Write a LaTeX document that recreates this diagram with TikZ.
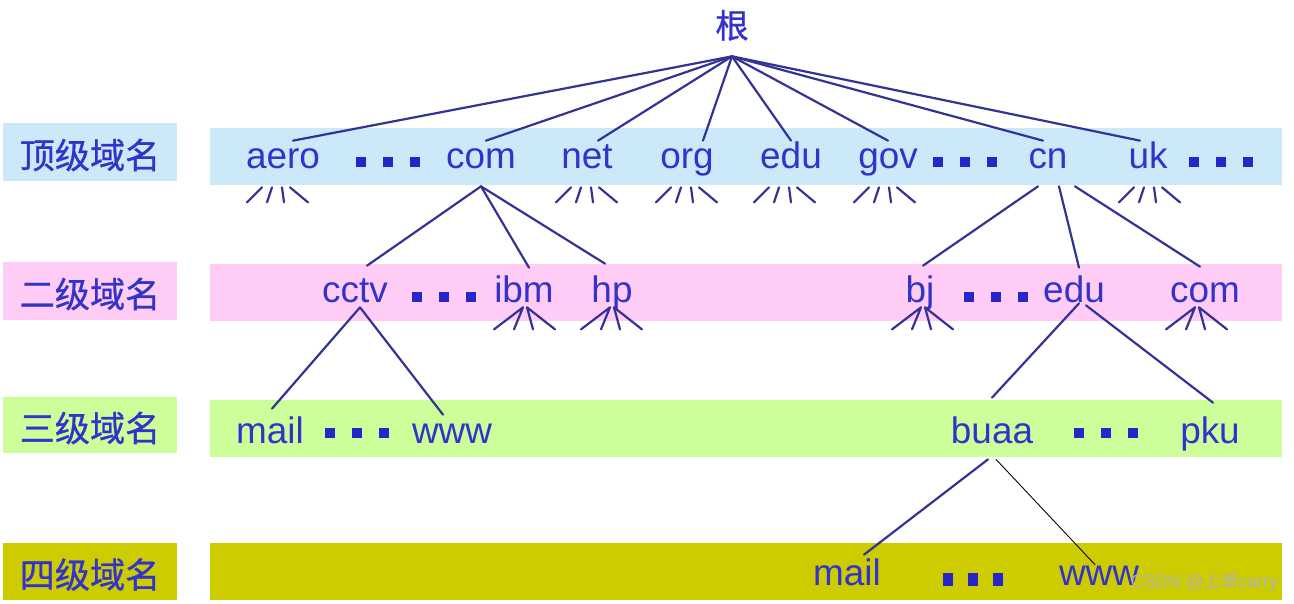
\documentclass[tikz,border=0pt]{standalone}
\usepackage{fontspec}
\setmainfont{Liberation Sans}
\newfontfamily\cjk{Noto Sans CJK SC}
\newfontfamily\cjkb{Noto Sans CJK SC}[FakeBold=0.8]
\definecolor{dnstext}{RGB}{51,51,204}
\definecolor{dnsline}{RGB}{51,51,150}
\definecolor{dnsdot}{RGB}{38,38,200}
\definecolor{bandA}{RGB}{204,233,250}
\definecolor{bandB}{RGB}{255,204,245}
\definecolor{bandC}{RGB}{204,255,153}
\definecolor{bandD}{RGB}{204,204,0}
\tikzset{
	link/.style={draw=dnsline,line width=1.25pt},
	dom/.style={text=dnstext,inner sep=0pt,anchor=base,font=\fontsize{21}{24}\selectfont},
	la/.style={dom,text height=0.54cm,text depth=0.36cm},
	lb/.style={dom,text height=0.72cm,text depth=0.1cm},
	lc/.style={dom,text height=0.64cm,text depth=0.32cm},
	ld/.style={dom,text height=0.52cm,text depth=0cm},
	lab/.style={text=dnstext,inner sep=0pt,font=\cjkb\fontsize{20}{24}\selectfont},
	rt/.style={text=dnstext,inner sep=0pt,anchor=base,text depth=0.36cm,font=\cjkb\fontsize{19}{22}\selectfont}
}
\begin{document}
\begin{tikzpicture}[x=0.02cm,y=-0.02cm,line join=round,line cap=round]
	\useasboundingbox (0,0) rectangle (1294,603);
	\foreach \i/\a/\b/\c/\d/\k/\t in {1/123/181/128/185/bandA/顶级域名,2/262/320/264/321/bandB/二级域名,3/397/453/400/457/bandC/三级域名,4/543/600/543/600/bandD/四级域名}{
		\fill[\k] (3,\a) rectangle (177,\b);
		\fill[\k] (210,\c) rectangle (1282,\d);
		\node[lab] (lev\i) at (90,{(\a+\b)/2+3}) {\t};
	}
	\node[rt] (r) at (732,38) {根};
	\foreach \n/\x in {aero/283,com/481,net/587,org/687,edu/791,gov/888,cn/1048,uk/1148} \node[la] (\n) at (\x,168) {\n};
	\foreach \n/\x/\t in {cctv/355/cctv,ibm/524/ibm,hp/612/hp,bj/920/bj,edu2/1074/edu,com2/1205/com} \node[lb] (\n) at (\x,302) {\t};
	\foreach \n/\x/\t in {mail3/270/mail,www3/452/www,buaa/992/buaa,pku/1210/pku} \node[lc] (\n) at (\x,443) {\t};
	\foreach \n/\x/\t in {mail4/847/mail,www4/1099/www} \node[ld] (\n) at (\x,585) {\t};
	\foreach \n/\d in {aero/10,com/5,net/11,org/16,edu/0,gov/0,cn/-5,uk/-8} \draw[link] (r.south) -- ([shift={(\d,0)}]\n.north);
	\foreach \n/\d/\e in {cctv/12/0,ibm/5/2,hp/-7/-2} \draw[link] (com.south) -- ([shift={(\d,\e)}]\n.north);
	\foreach \s/\n/\d/\e in {-10/bj/3/0,11/edu2/5/2,27/com2/-5/1} \draw[link] ([shift={(\s,0)}]cn.south) -- ([shift={(\d,\e)}]\n.north);
	\draw[link] ([shift={(5,0)}]cctv.south) -- ([shift={(2,-2)}]mail3.north) ([shift={(5,0)}]cctv.south) -- ([shift={(-9,4)}]www3.north);
	\draw[link] ([shift={(5,-4)}]edu2.south) -- ([shift={(0,-13)}]buaa.north) ([shift={(12,-2)}]edu2.south) -- ([shift={(3,-8)}]pku.north);
	\draw[link] ([shift={(-4,0)}]buaa.south) -- ([shift={(17,-4)}]mail4.north);
	\draw[black,line width=0.5pt] ([shift={(4,0)}]buaa.south) -- ([shift={(-4,6)}]www4.north);
	\foreach \n/\d in {aero/-5,net/0,org/0,edu/-6,gov/-3,uk/2} \draw[link,shift={(\n.south)},shift={(\d,0)}] (-31,16)--(-16,1) (-11,16)--(-6,1) (4,1)--(6,16) (12,1)--(30,16);
	\foreach \n/\d in {ibm/1,hp/0,bj/3,com2/-8} \draw[link,shift={(\n.south)},shift={(\d,0)}] (-31,22)--(-2,0)--(-11,22) (8,22)--(2,0)--(30,22);
	\foreach \x/\y in {388/162,965/162,1221/162,444/297,996/297,357/433,1106/433}
		\foreach \d in {-27,0,27} \fill[dnsdot] ({\x+\d-5},{\y-5}) rectangle ++(10,10);
	\foreach \d in {-25,0,25} \fill[dnsdot] ({973+\d-5},573) rectangle ++(10,13);
	\node[anchor=east,inner sep=0pt,text=white!70!black,font=\fontsize{10}{12}\selectfont] (wm) at (1278,582) {CSDN @{\cjk 上单}carry};
\end{tikzpicture}
\end{document}
